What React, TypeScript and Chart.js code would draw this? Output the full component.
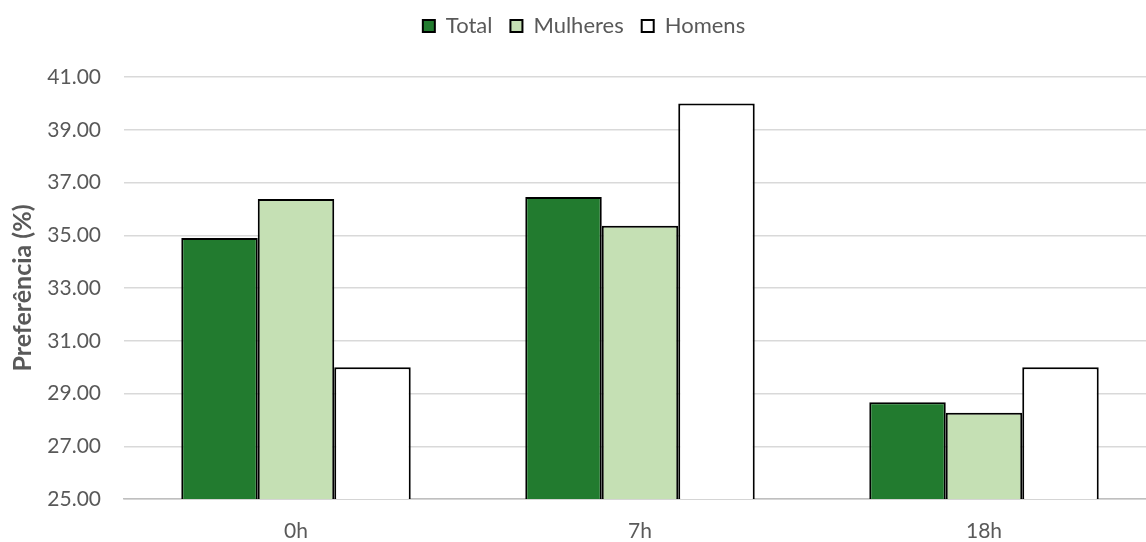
import React, { useEffect, useRef } from "react";
import { Chart, registerables } from "chart.js";

Chart.register(...registerables);

// Time points on the x axis
const categories = ["0h", "7h", "18h"];

// Preference (%) per group at each time point
const totalValues = [34.9, 36.45, 28.67];
const mulheresValues = [36.37, 35.36, 28.27];
const homensValues = [30.0, 40.0, 30.0];

// Y axis range and step
const yMin = 25;
const yMax = 41;
const yStep = 2;

const FONT = "Lato, 'Open Sans', sans-serif";
const TEXT = "#595959";

// Extra space kept under the legend, above the plot area; legend nudged slightly
const legendGap = {
  id: "legendGap",
  beforeInit(chart: any) {
    const legend = chart.legend;
    if (!legend) return;
    const fit = legend.fit.bind(legend);
    legend.fit = function () {
      fit();
      this.height += 27;
    };
    const draw = legend.draw.bind(legend);
    legend.draw = function () {
      const ctx = chart.ctx;
      ctx.save();
      ctx.translate(6, -3);
      draw();
      ctx.restore();
    };
  },
};

export default function App() {
  const canvasRef = useRef<HTMLCanvasElement | null>(null);

  useEffect(() => {
    document.body.style.margin = "0";
    const canvas = canvasRef.current;
    if (!canvas) return;
    const chart = new Chart(canvas, {
      type: "bar",
      data: {
        labels: categories,
        datasets: [
          {
            label: "Total",
            data: totalValues,
            backgroundColor: "#227b2f",
            borderColor: "#000000",
            borderWidth: 2,
          },
          {
            label: "Mulheres",
            data: mulheresValues,
            backgroundColor: "#c5e0b4",
            borderColor: "#000000",
            borderWidth: 2,
          },
          {
            label: "Homens",
            data: homensValues,
            backgroundColor: "#ffffff",
            borderColor: "#000000",
            borderWidth: 2,
          },
        ],
      },
      plugins: [legendGap],
      options: {
        responsive: false,
        animation: false,
        layout: { padding: 0 },
        datasets: {
          bar: { categoryPercentage: 0.667, barPercentage: 1 },
        },
        plugins: {
          tooltip: { enabled: false },
          legend: {
            position: "top",
            labels: {
              font: { family: FONT, size: 22 },
              color: TEXT,
              boxWidth: 12,
              boxHeight: 12,
              padding: 18,
            },
          },
        },
        scales: {
          x: {
            afterFit: (scale: any) => {
              scale.height = 43;
            },
            grid: { display: false, drawTicks: false },
            border: { display: true, color: "#bfbfbf", width: 1.5 },
            ticks: {
              font: { family: FONT, size: 21 },
              color: TEXT,
              padding: 20,
            },
          },
          y: {
            min: yMin,
            max: yMax,
            afterFit: (scale: any) => {
              scale.width = 124;
            },
            grid: { color: "#d9d9d9", lineWidth: 1.5, drawTicks: false },
            border: { display: false },
            ticks: {
              stepSize: yStep,
              font: { family: FONT, size: 21 },
              color: TEXT,
              padding: 23,
              callback: (v: any) => Number(v).toFixed(2),
            },
            title: {
              display: true,
              text: "Preferência (%)",
              font: { family: FONT, size: 25, weight: "bold" },
              color: TEXT,
              padding: { top: 8, bottom: 0 },
            },
          },
        },
      },
    });
    return () => chart.destroy();
  }, []);

  return (
    <div style={{ width: 1146, height: 542, overflow: "hidden", background: "#ffffff" }}>
      <canvas ref={canvasRef} width={1156} height={542} />
    </div>
  );
}
